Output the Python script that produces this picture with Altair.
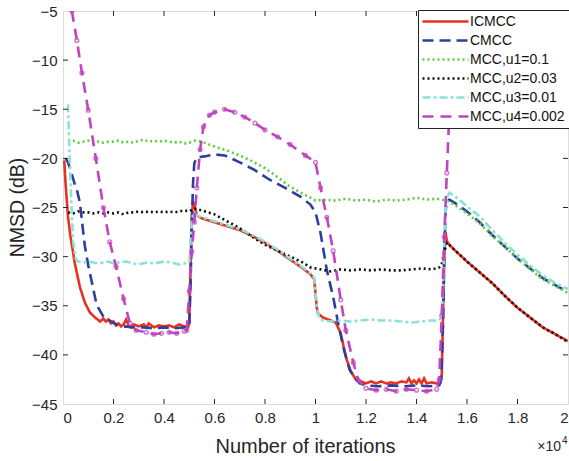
import altair as alt
import pandas as pd

# ---------------- data (x in units of 1e4 iterations, y in dB) ----------------
series_names = ["ICMCC", "CMCC", "MCC,u1=0.1", "MCC,u2=0.03", "MCC,u3=0.01", "MCC,u4=0.002"]
series_colors = ["#e8321f", "#2c3f9d", "#5ccd3f", "#111111", "#8ee0d6", "#c044bf"]
series_dashes = [[1, 0], [11, 6], [2, 3], [2, 3], [8, 3, 3, 3], [11, 7]]

icmcc_x = [0.005, 0.01, 0.02, 0.03, 0.047, 0.067, 0.087, 0.107, 0.127, 0.147, 0.16, 0.17, 0.18, 0.19, 0.2,
           0.21, 0.22, 0.23, 0.24, 0.25, 0.26, 0.27, 0.28, 0.3, 0.32, 0.33, 0.34, 0.36, 0.38, 0.4, 0.42,
           0.44, 0.46, 0.48, 0.495, 0.5, 0.505, 0.51, 0.515, 0.52, 0.53, 0.55, 0.6, 0.65, 0.7, 0.75, 0.8,
           0.85, 0.9, 0.95, 0.98, 0.995, 1.005, 1.01, 1.03, 1.05, 1.08, 1.1, 1.12, 1.14, 1.16, 1.18, 1.2,
           1.22, 1.24, 1.26, 1.28, 1.3, 1.32, 1.34, 1.36, 1.37, 1.38, 1.39, 1.4, 1.41, 1.42, 1.43, 1.44,
           1.46, 1.48, 1.495, 1.5, 1.505, 1.51, 1.515, 1.52, 1.53, 1.55, 1.6, 1.65, 1.7, 1.75, 1.8, 1.85,
           1.9, 1.95, 2.0]
icmcc_y = [-20.2, -22.5, -26.0, -28.0, -30.7, -33.1, -34.7, -35.7, -36.2, -36.6, -36.3, -36.6, -36.4, -36.8, -36.6,
           -37.0, -36.8, -37.1, -36.9, -36.4, -37.0, -37.2, -36.9, -37.1, -36.9, -37.2, -36.8, -37.2, -37.0, -37.1, -37.0,
           -37.2, -36.9, -37.1, -37.2, -36.8, -31.0, -26.0, -24.4, -24.7, -25.8, -26.1, -26.5, -26.9, -27.3, -27.9, -28.6,
           -29.4, -30.3, -31.2, -31.8, -32.3, -35.2, -35.8, -36.2, -36.4, -36.7, -37.8, -40.2, -41.7, -42.5, -42.7, -42.9,
           -42.7, -42.9, -42.7, -42.9, -42.8, -42.9, -42.7, -42.8, -42.4, -42.9, -42.6, -42.9, -42.5, -42.9, -42.4, -42.9,
           -42.8, -42.9, -42.8, -42.0, -36.0, -30.0, -27.5, -28.4, -28.8, -29.3, -30.5, -31.6, -32.7, -34.0, -35.2, -36.2,
           -37.2, -37.9, -38.6]

cmcc_x = [0.01, 0.02, 0.03, 0.045, 0.055, 0.067, 0.08, 0.087, 0.1, 0.12, 0.133, 0.16, 0.185, 0.21, 0.24, 0.28,
          0.32, 0.36, 0.4, 0.44, 0.48, 0.5, 0.505, 0.51, 0.515, 0.52, 0.53, 0.56, 0.6, 0.64, 0.7, 0.76, 0.82,
          0.88, 0.94, 0.98, 1.0, 1.02, 1.045, 1.07, 1.09, 1.11, 1.135, 1.16, 1.175, 1.2, 1.25, 1.3, 1.35, 1.4,
          1.45, 1.49, 1.498, 1.505, 1.51, 1.515, 1.52, 1.53, 1.55, 1.6, 1.65, 1.7, 1.75, 1.8, 1.85, 1.9, 1.95, 2.0]
cmcc_y = [-20.0, -20.4, -21.2, -22.5, -23.2, -24.5, -27.5, -29.0, -30.9, -33.3, -34.9, -36.1, -36.5, -36.9, -37.1, -37.2,
          -37.2, -37.3, -37.2, -37.3, -37.2, -37.1, -33.0, -27.0, -22.5, -20.5, -19.9, -19.8, -19.6, -19.7, -20.4, -21.2, -22.2,
          -23.0, -23.9, -24.7, -25.5, -27.6, -31.4, -34.1, -36.8, -39.2, -41.5, -42.5, -42.9, -43.1, -43.2, -43.1, -43.2, -43.1,
          -43.2, -43.1, -42.5, -37.0, -30.0, -25.5, -24.3, -24.2, -24.5, -25.4, -26.5, -27.8, -29.0, -30.2, -31.2, -32.2, -32.9, -33.6]

u1_x = [0.02, 0.04, 0.06, 0.08, 0.1, 0.12, 0.14, 0.16, 0.18, 0.2, 0.22, 0.24, 0.26, 0.28, 0.3, 0.32, 0.34, 0.36,
        0.38, 0.4, 0.42, 0.44, 0.46, 0.48, 0.5, 0.52, 0.55, 0.6, 0.65, 0.7, 0.75, 0.8, 0.85, 0.9, 0.95, 0.98, 1.0,
        1.04, 1.08, 1.12, 1.16, 1.2, 1.24, 1.28, 1.32, 1.36, 1.4, 1.44, 1.48, 1.5, 1.52, 1.55, 1.6, 1.65, 1.7, 1.75,
        1.8, 1.85, 1.9, 1.95, 2.0]
u1_y = [-18.3, -18.2, -18.4, -18.3, -18.2, -18.4, -18.3, -18.4, -18.3, -18.3, -18.2, -18.4, -18.3, -18.4, -18.2, -18.1, -18.3, -18.2,
        -18.3, -18.2, -18.3, -18.4, -18.3, -18.5, -18.4, -18.2, -18.3, -18.8, -19.2, -19.7, -20.3, -21.0, -21.9, -22.9, -23.6, -24.0, -24.3,
        -24.2, -24.3, -24.1, -24.3, -24.2, -24.4, -24.2, -24.3, -24.2, -24.0, -24.2, -24.1, -24.2, -24.3, -24.7, -25.6, -26.6, -27.9, -29.0,
        -30.2, -31.3, -32.3, -33.0, -33.7]

u2_x = [0.02, 0.04, 0.06, 0.08, 0.1, 0.12, 0.14, 0.16, 0.18, 0.2, 0.22, 0.24, 0.26, 0.28, 0.3, 0.32, 0.34, 0.36,
        0.38, 0.4, 0.42, 0.44, 0.46, 0.48, 0.5, 0.52, 0.55, 0.6, 0.65, 0.7, 0.75, 0.8, 0.85, 0.9, 0.95, 0.98, 1.02,
        1.06, 1.1, 1.14, 1.18, 1.22, 1.26, 1.3, 1.34, 1.38, 1.42, 1.46, 1.49, 1.5, 1.51, 1.52, 1.53, 1.55, 1.6, 1.65,
        1.7, 1.75, 1.8, 1.85, 1.9, 1.95, 2.0]
u2_y = [-25.5, -25.6, -25.4, -25.5, -25.5, -25.6, -25.5, -25.6, -25.5, -25.6, -25.5, -25.7, -25.5, -25.5, -25.4, -25.5, -25.4, -25.5,
        -25.4, -25.5, -25.4, -25.5, -25.4, -25.3, -25.4, -25.1, -25.3, -25.7, -26.4, -27.1, -28.0, -28.8, -29.4, -30.0, -30.6, -31.1, -31.3,
        -31.5, -31.3, -31.4, -31.3, -31.4, -31.3, -31.4, -31.4, -31.3, -31.2, -31.3, -31.1, -30.8, -29.5, -28.6, -28.8, -29.3, -30.5, -31.6,
        -32.7, -34.0, -35.2, -36.2, -37.2, -37.9, -38.7]

u3_x = [0.02, 0.025, 0.03, 0.035, 0.04, 0.05, 0.06, 0.08, 0.1, 0.12, 0.14, 0.16, 0.18, 0.2, 0.22, 0.25, 0.28, 0.3,
        0.33, 0.36, 0.4, 0.43, 0.46, 0.5, 0.505, 0.51, 0.515, 0.52, 0.53, 0.55, 0.6, 0.65, 0.7, 0.75, 0.8, 0.85, 0.9,
        0.95, 0.98, 0.995, 1.005, 1.015, 1.03, 1.06, 1.1, 1.14, 1.18, 1.22, 1.26, 1.3, 1.34, 1.38, 1.42, 1.46, 1.49,
        1.5, 1.505, 1.51, 1.515, 1.52, 1.53, 1.55, 1.6, 1.65, 1.7, 1.75, 1.8, 1.85, 1.9, 1.95, 2.0]
u3_y = [-14.5, -19.0, -22.5, -25.6, -28.5, -30.2, -30.5, -30.6, -30.5, -30.6, -30.7, -30.6, -30.5, -30.7, -30.6, -30.5, -30.7, -30.8,
        -30.6, -30.7, -30.5, -30.6, -30.8, -30.6, -28.5, -26.5, -25.7, -25.5, -25.8, -26.0, -26.4, -26.8, -27.2, -27.8, -28.5, -29.3, -30.2,
        -31.1, -31.7, -32.2, -35.0, -36.3, -36.5, -36.6, -36.5, -36.6, -36.5, -36.4, -36.5, -36.5, -36.6, -36.7, -36.6, -36.5, -36.5,
        -36.0, -33.0, -28.5, -25.5, -24.0, -23.5, -23.8, -24.9, -25.9, -27.3, -28.6, -29.8, -30.9, -31.9, -32.7, -33.3]

u4_x = [0.035, 0.055, 0.075, 0.1, 0.13, 0.16, 0.185, 0.21, 0.24, 0.265, 0.29, 0.33, 0.36, 0.39, 0.42, 0.45, 0.48,
        0.49, 0.5, 0.51, 0.52, 0.53, 0.543, 0.556, 0.58, 0.6, 0.64, 0.68, 0.72, 0.76, 0.8, 0.85, 0.9, 0.96, 1.0,
        1.02, 1.045, 1.07, 1.1, 1.12, 1.15, 1.17, 1.2, 1.24, 1.28, 1.32, 1.36, 1.4, 1.44, 1.48, 1.49, 1.5, 1.51,
        1.52, 1.53, 1.54, 1.555]
u4_y = [-5.0, -8.0, -11.3, -15.1, -20.0, -25.0, -28.5, -31.0, -34.3, -36.8, -37.5, -37.7, -37.9, -37.8, -37.7, -37.8, -37.6,
        -37.5, -33.5, -29.5, -26.5, -23.0, -19.1, -16.8, -15.6, -15.3, -15.0, -15.3, -15.8, -16.4, -17.1, -17.8, -18.6, -19.7, -20.4,
        -23.0, -26.0, -29.4, -34.4, -37.5, -40.8, -42.6, -43.4, -43.6, -43.5, -43.7, -43.5, -43.6, -43.7, -43.5, -42.5, -36.0, -28.0,
        -21.5, -15.5, -10.0, -5.0]

x_ticks = [0, 0.2, 0.4, 0.6, 0.8, 1, 1.2, 1.4, 1.6, 1.8, 2]
y_ticks = [-45, -40, -35, -30, -25, -20, -15, -10, -5]
x_inner_ticks = [0.2, 0.4, 0.6, 0.8, 1, 1.2, 1.4, 1.6, 1.8]
y_inner_ticks = [-40, -35, -30, -25, -20, -15, -10]

# ---------------- build table ----------------
all_x = [icmcc_x, cmcc_x, u1_x, u2_x, u3_x, u4_x]
all_y = [icmcc_y, cmcc_y, u1_y, u2_y, u3_y, u4_y]
rows = []
for name, xs, ys in zip(series_names, all_x, all_y):
    for i, (xv, yv) in enumerate(zip(xs, ys)):
        rows.append({"series": name, "x": xv, "y": yv, "i": i})
df = pd.DataFrame(rows)

W, H = 505, 393
FONT = "Liberation Sans"

xscale = alt.Scale(domain=[0, 2], nice=False, zero=False)
yscale = alt.Scale(domain=[-45, -5], nice=False, zero=False)
color_scale = alt.Scale(domain=series_names, range=series_colors)
dash_scale = alt.Scale(domain=series_names, range=series_dashes)

xaxis = alt.Axis(values=x_ticks, labelExpr="format(datum.value, '~g')", ticks=False, domain=False, grid=False,
                 labelFontSize=15, labelPadding=6, labelColor="#262626", labelFont=FONT,
                 title="Number of iterations", titleFontSize=20, titleFontWeight="normal", titleFont=FONT,
                 titleColor="#262626", titleX=242, titleY=48, titleBaseline="alphabetic", titleAnchor="middle")
yaxis = alt.Axis(values=y_ticks, ticks=False, domain=False, grid=False,
                 labelFontSize=15, labelPadding=6, labelColor="#262626", labelFont=FONT,
                 title="NMSD (dB)", titleFontSize=19.5, titleFontWeight="normal", titleFont=FONT,
                 titleColor="#262626", titleX=-46, titleY=196, titleAngle=270, titleBaseline="middle",
                 titleAlign="center")

# long horizontal line symbol (custom path in the [-1,1] box scaled by sqrt(size)/2)
legend = alt.Legend(title=None, orient="none", legendX=355, legendY=-1,
                    symbolType="M-3.833,0L3.833,0", symbolSize=144, symbolStrokeWidth=2.5,
                    symbolOffset=16, labelOffset=17,
                    labelFontSize=14, labelFont=FONT, labelColor="#111111",
                    strokeColor="#222222", fillColor="white", padding=4, rowPadding=4,
                    cornerRadius=0, labelLimit=200)

base = alt.Chart(df).mark_line(strokeWidth=2.6, clip=True).encode(
    x=alt.X("x:Q", scale=xscale, axis=xaxis),
    y=alt.Y("y:Q", scale=yscale, axis=yaxis),
    color=alt.Color("series:N", scale=color_scale, legend=legend),
    strokeDash=alt.StrokeDash("series:N", scale=dash_scale, legend=legend),
    order="i:Q",
)

layers = [base.transform_filter(alt.datum.series == s) for s in series_names]

markers = alt.Chart(df).transform_filter(alt.datum.series == "MCC,u4=0.002").mark_point(
    shape="circle", filled=False, size=14, strokeWidth=1.5, color="#c044bf", clip=True
).encode(x=alt.X("x:Q", scale=xscale), y=alt.Y("y:Q", scale=yscale))

tick_color = "#262626"
xt = pd.DataFrame({"v": x_inner_ticks})
yt = pd.DataFrame({"v": y_inner_ticks})
bottom_ticks = alt.Chart(xt).mark_rule(color=tick_color, strokeWidth=1).encode(
    x=alt.X("v:Q", scale=xscale), y=alt.value(H), y2=alt.value(H - 5))
top_ticks = alt.Chart(xt).mark_rule(color=tick_color, strokeWidth=1).encode(
    x=alt.X("v:Q", scale=xscale), y=alt.value(0), y2=alt.value(5))
left_ticks = alt.Chart(yt).mark_rule(color=tick_color, strokeWidth=1).encode(
    y=alt.Y("v:Q", scale=yscale), x=alt.value(0), x2=alt.value(5))
right_ticks = alt.Chart(yt).mark_rule(color=tick_color, strokeWidth=1).encode(
    y=alt.Y("v:Q", scale=yscale), x=alt.value(W), x2=alt.value(W - 5))

times_text = alt.Chart(pd.DataFrame({"t": ["\u00d710"]})).mark_text(
    font=FONT, fontSize=14, align="right", baseline="alphabetic", color="#262626"
).encode(text="t:N", x=alt.value(W - 7), y=alt.value(H + 47))
exp_text = alt.Chart(pd.DataFrame({"t": ["4"]})).mark_text(
    font=FONT, fontSize=10, align="left", baseline="alphabetic", color="#262626"
).encode(text="t:N", x=alt.value(W - 6), y=alt.value(H + 40))

chart = alt.layer(
    *layers, markers, bottom_ticks, top_ticks, left_ticks, right_ticks, times_text, exp_text
).resolve_scale(color="shared", strokeDash="shared").properties(
    width=W, height=H,
    padding={"left": 63, "top": 11, "right": 1, "bottom": 57},
    autosize=alt.AutoSizeParams(type="none"),
).configure_view(stroke="#262626", strokeWidth=1).configure(background="white")

chart.save("out.html", embed_options={"renderer": "svg", "actions": False})
